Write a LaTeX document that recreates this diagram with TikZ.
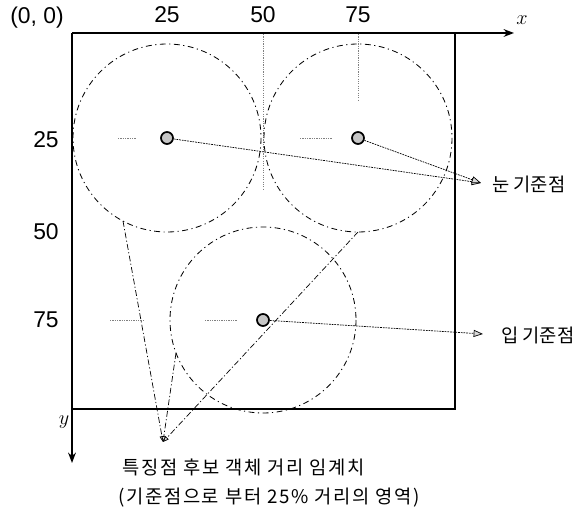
\documentclass[tikz,border=0pt]{standalone}
\usepackage{fontspec}
\setmainfont{Liberation Sans}
\newfontfamily\kor{Noto Sans CJK KR}
\newfontfamily\korwide[LetterSpace=9]{Noto Sans CJK KR}
\usetikzlibrary{arrows.meta}
\tikzset{
  refpt/.style={circle,draw,line width=1.5pt,fill=gray!45,inner sep=0pt,minimum size=0.36cm},
  zone/.style={line width=0.7pt,dash pattern=on 5pt off 3pt on 1pt off 3pt},
  guide/.style={gray,line width=0.6pt,dash pattern=on 1pt off 1pt},
  ptr/.style={line width=0.6pt,dash pattern=on 1.5pt off 0.8pt,
    -{Triangle[open,fill=gray!30,length=8pt,width=6pt]}},
  reach/.style={line width=0.6pt,dash pattern=on 5pt off 2pt on 1pt off 2pt,
    -{Triangle[open,fill=gray!30,length=5pt,width=4pt]}},
  tick/.style={font=\fontsize{19.5}{22}\selectfont},
  kortext/.style={font=\kor\fontsize{16}{19}\selectfont}
}
\begin{document}
\begin{tikzpicture}[x=0.03cm,y=-0.03cm,>=Stealth]
  \useasboundingbox (0,0) rectangle (580,512);
  % frame and axes
  \draw[line width=1.3pt] (455,33) -- (455,409) -- (72,409);
  \draw[line width=1.3pt,->] (72,33) -- (514,33);
  \draw[line width=1.3pt,->] (72,33) -- (72,463);
  \node (xlab) at (522,20) {\fontsize{19}{22}\selectfont$x$};
  \node (ylab) at (64,422) {\fontsize{19}{22}\selectfont$y$};
  \node[tick] (orig) at (37,18) {(0, 0)};
  \node[tick] (tx25) at (167,15) {25};
  \node[tick] (tx50) at (263,15) {50};
  \node[tick] (tx75) at (358,15) {75};
  \node[tick] (ty25) at (46,140) {25};
  \node[tick] (ty50) at (46,232) {50};
  \node[tick] (ty75) at (46,320) {75};
  % guide marks
  \draw[guide] (263,34) -- (263,190);
  \draw[guide] (358,34) -- (358,100);
  \draw[guide] (118,138) -- (136,138);
  \draw[guide] (300,138) -- (332,138);
  \draw[guide] (110,320) -- (145,320);
  \draw[guide] (205,320) -- (237,320);
  % 25% regions
  \draw[zone] (167,138) circle (94);
  \draw[zone] (358,138) circle (94);
  \draw[zone] (263,320) circle (93);
  % reference points
  \node[refpt] (eyeL) at (167,138) {};
  \node[refpt] (eyeR) at (358,138) {};
  \node[refpt] (mouth) at (263,320) {};
  \coordinate (eyetip) at (481,183);
  \coordinate (mouthtip) at (483,334);
  \node[kortext,anchor=west] (eyelab) at (488,184) {눈 기준점};
  \node[kortext,anchor=west] (mouthlab) at (497,335) {입 기준점};
  \draw[ptr] (eyeL) -- (eyetip);
  \draw[ptr] (eyeR) -- (eyetip);
  \draw[ptr] (mouth) -- (mouthtip);
  % threshold
  \coordinate (zoneL) at (123,221);
  \coordinate (zoneM) at (176,353);
  \coordinate (zoneR) at (358,232);
  \coordinate (thr) at (163,442);
  \draw[reach] (zoneL) -- (thr);
  \draw[reach] (zoneM) -- (thr);
  \draw[reach] (zoneR) -- (thr);
  \node[anchor=west,inner sep=0pt] (thrlab) at (122,467)
    {\korwide\fontsize{16}{19}\selectfont 특징점 후보 객체 거리 임계치};
  \node[anchor=west,inner sep=0pt] (thrnote) at (118,498)
    {\korwide\fontsize{16}{19}\selectfont (기준점으로 부터 25\% 거리의 영역)};
\end{tikzpicture}
\end{document}
